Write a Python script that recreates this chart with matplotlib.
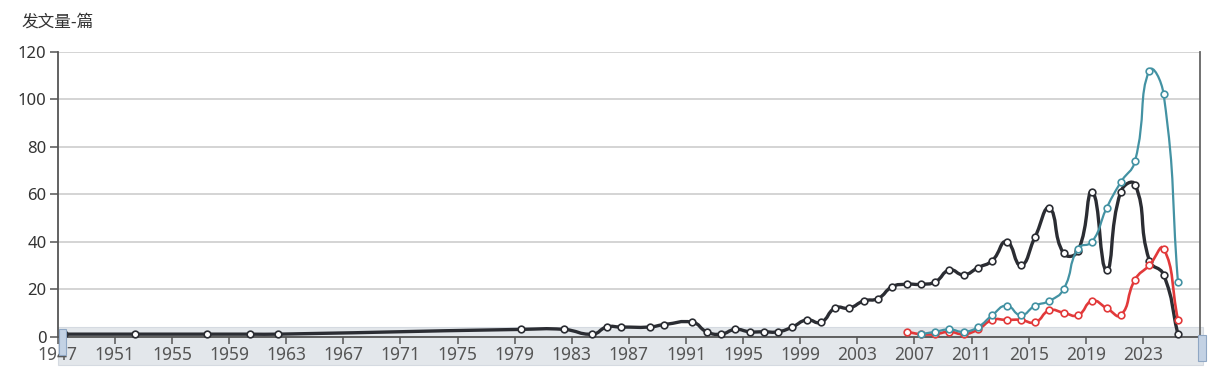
import numpy as np
import matplotlib
matplotlib.use("Agg")
import matplotlib.pyplot as plt
from matplotlib.path import Path
from matplotlib.patches import PathPatch, Rectangle

plt.rcParams['font.family'] = ['Noto Sans', 'Noto Sans CJK SC', 'DejaVu Sans']

# publications per year, three series
black_years = [1947, 1952, 1957, 1960, 1962, 1979, 1982, 1984, 1985, 1986, 1988, 1989,
               1991, 1992, 1993, 1994, 1995, 1996, 1997, 1998, 1999, 2000, 2001, 2002,
               2003, 2004, 2005, 2006, 2007, 2008, 2009, 2010, 2011, 2012, 2013, 2014,
               2015, 2016, 2017, 2018, 2019, 2020, 2021, 2022, 2023, 2024, 2025]
black_vals = [1, 1, 1, 1, 1, 3, 3, 1, 4, 4, 4, 5,
              6, 2, 1, 3, 2, 2, 2, 4, 7, 6, 12, 12,
              15, 16, 21, 22, 22, 23, 28, 26, 29, 32, 40, 30,
              42, 54, 35, 36, 61, 28, 61, 64, 32, 26, 1]

teal_years = list(range(2007, 2026))
teal_vals = [1, 2, 3, 2, 4, 9, 13, 9, 13, 15, 20, 37, 40, 54, 65, 74, 112, 102, 23]

red_years = list(range(2006, 2026))
red_vals = [2, 1, 1, 2, 1, 3, 7, 7, 7, 6, 11, 10, 9, 15, 12, 9, 24, 30, 37, 7]

tick_years = list(range(1947, 2027, 4))
y_ticks = [0, 20, 40, 60, 80, 100, 120]

colors = {"black": "#2b2d33", "teal": "#4392a3", "red": "#e2393a"}


def smooth_path(xs, ys, sx, sy, smooth=0.5):
	# cubic bezier through the points, echarts-like control points
	P = np.column_stack([np.asarray(xs, float) * sx, np.asarray(ys, float) * sy])
	n = len(P)
	cp_in, cp_out = [], []
	for i in range(n):
		prev = P[i - 1] if i > 0 else P[i]
		nxt = P[i + 1] if i < n - 1 else P[i]
		v = nxt - prev
		d0 = np.hypot(*(P[i] - prev))
		d1 = np.hypot(*(P[i] - nxt))
		s = d0 + d1
		if s > 0:
			d0, d1 = d0 / s, d1 / s
		cp_in.append(P[i] - v * smooth * d0)
		cp_out.append(P[i] + v * smooth * d1)
	verts = [P[0]]
	codes = [Path.MOVETO]
	for i in range(n - 1):
		verts += [cp_out[i], cp_in[i + 1], P[i + 1]]
		codes += [Path.CURVE4] * 3
	verts = np.array(verts) / [sx, sy]
	return Path(verts, codes)


fig = plt.figure(figsize=(12.09, 3.69), dpi=100)
ax = fig.add_axes([0.0477, 0.088, 0.9449, 0.7724])
ax.set_xlim(1947, 2027)
ax.set_ylim(0, 120)

# px per data unit (for the smoothing)
sx, sy = 14.28, 2.38

series = [(black_years, black_vals, colors["black"], 2.4),
          (red_years, red_vals, colors["red"], 1.9),
          (teal_years, teal_vals, colors["teal"], 1.6)]
for k, (yrs, vals, c, lw) in enumerate(series):
	xs = np.array(yrs) + 0.45
	p = smooth_path(xs, vals, sx, sy)
	ax.add_patch(PathPatch(p, facecolor="none", edgecolor=c, lw=lw, zorder=3 + k, clip_on=False))
	ax.plot(xs, vals, ls="none", marker="o", ms=4.8, mfc="white", mec=c, mew=1.2,
	        zorder=3.5 + k, clip_on=False)

ax.set_yticks(y_ticks)
ax.set_xticks(tick_years)
ax.set_xticklabels([str(y) for y in tick_years])
ax.grid(axis="y", color="#c9c9c9", lw=1.1)
ax.set_axisbelow(True)
ax.tick_params(axis="y", length=6, width=1.1, color="#555555", labelsize=12, labelcolor="#333333", pad=2)
ax.tick_params(axis="x", length=5, width=1.1, color="#555555", labelsize=12.5, labelcolor="#555555", pad=2)
for side in ["left", "right", "bottom"]:
	ax.spines[side].set_color("#555555")
	ax.spines[side].set_linewidth(1.3)
ax.spines["top"].set_visible(False)
ax.spines["right"].set_color("#666666")

# data zoom slider band under the axis
ax.add_patch(Rectangle((0, -0.1), 1.003, 0.135, transform=ax.transAxes, facecolor="#dde1e7",
                       edgecolor="#cfd4dc", lw=0.8, alpha=0.8, zorder=0.5, clip_on=False))
ax.add_patch(Rectangle((0.001, -0.065), 0.006, 0.09, transform=ax.transAxes, facecolor="#c3d2e4",
                       edgecolor="#8fa7c4", lw=0.8, zorder=6, clip_on=False))
ax.add_patch(Rectangle((0.9985, -0.085), 0.007, 0.09, transform=ax.transAxes, facecolor="#c3d2e4",
                       edgecolor="#8fa7c4", lw=0.8, zorder=6, clip_on=False))

fig.text(0.018, 0.94, "发文量-篇", fontsize=12, color="#333333", va="center",
         family=["Noto Sans CJK SC", "DejaVu Sans"])

fig.savefig("out.png", dpi=100)
